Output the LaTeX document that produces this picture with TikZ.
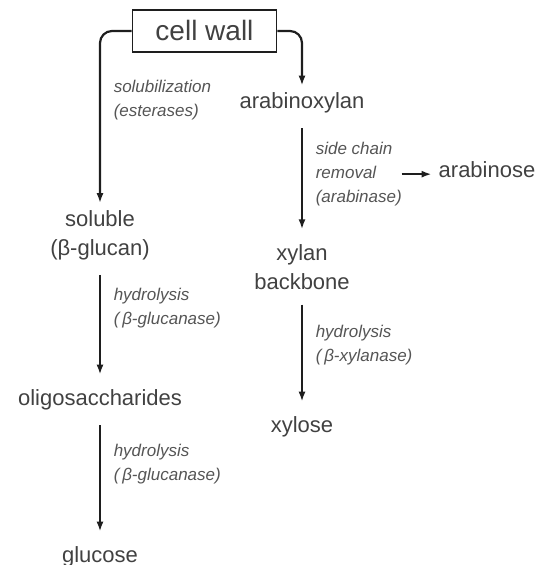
\documentclass[tikz,border=0pt]{standalone}
\usepackage{fontspec}
\setmainfont{Liberation Sans}
\usepackage{xcolor}
\usepackage{tikz}
\usetikzlibrary{arrows.meta, calc}
\definecolor{inkgray}{RGB}{65, 65, 65}
\definecolor{labelgray}{RGB}{85, 85, 85}
\definecolor{linegray}{RGB}{30, 30, 30}

\begin{document}
\begin{tikzpicture}[x=0.5pt, y=-0.5pt,
    wallbox/.style={rectangle, draw=linegray, line width=0.8pt,
                    minimum width=72pt, minimum height=21pt,
                    font=\fontsize{14}{16}\selectfont, text=inkgray},
    compound/.style={align=center, font=\fontsize{11}{14.5}\selectfont, text=inkgray},
    enzyme/.style={align=left, font=\fontsize{8.5}{12}\selectfont\itshape,
                   text=labelgray, xshift=3pt},
    arrow/.style={-{Latex[length=5pt, width=3.5pt]}, line width=1.1pt, draw=linegray},
    flow/.style={arrow, shorten <=4pt, shorten >=4pt}
]
\useasboundingbox (0,0) rectangle (537,565);

%% ── Source ──────────────────────────────────────────────────────────────────
\node[wallbox] (wall) at (204.5, 31) {cell wall};

%% ── Glucan branch ───────────────────────────────────────────────────────────
\node[compound] (soluble) at (100, 235) {soluble\\(β-glucan)};
\node[compound] (oligo)   at (100, 400) {oligosaccharides};
\node[compound] (glucose) at (100, 557) {glucose};

%% ── Xylan branch ────────────────────────────────────────────────────────────
\node[compound] (arabx)     at (302, 103) {arabinoxylan};
\node[compound] (xylan)     at (302, 267) {xylan\\backbone};
\node[compound] (xylose)    at (302, 427) {xylose};
\node[compound] (arabinose) at (487, 170) {arabinose};

%% ── Arrows ──────────────────────────────────────────────────────────────────
\draw[arrow, rounded corners=6pt] (wall.west) -| node[pos=0.7, right, enzyme]{solubilization\\(esterases)} (soluble);
\draw[arrow, rounded corners=6pt] (wall.east) -| (arabx);
\draw[flow] (soluble) -- node[pos=0.36, right, enzyme]{hydrolysis\\(\,β-glucanase)} (oligo);
\draw[flow] (oligo)   -- node[pos=0.38, right, enzyme]{hydrolysis\\(\,β-glucanase)} (glucose);
\draw[flow] (arabx)   -- node[pos=0.46, right, enzyme] (sidechain) {side chain\\removal\\(arabinase)} (xylan);
\draw[flow] (xylan)   -- node[pos=0.43, right, enzyme]{hydrolysis\\(\,β-xylanase)} (xylose);
\draw[arrow] ([xshift=-4pt]sidechain.east) -- (sidechain.east -| arabinose.west);

\end{tikzpicture}
\end{document}
